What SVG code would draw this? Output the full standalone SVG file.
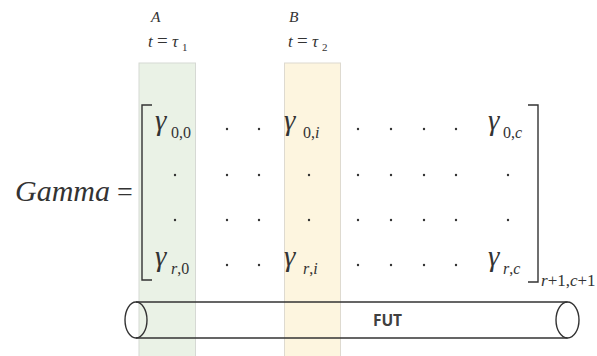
<svg xmlns="http://www.w3.org/2000/svg" width="597" height="356" viewBox="0 0 597 356">
<style>
.m{fill:#333;}
.it{font-style:italic;}
.g{font-size:29px;font-style:italic;}
.s{font-size:16px;}
.d{fill:#333;}
.br{fill:none;stroke:#333;stroke-width:1.4;}
.cyl{fill:none;stroke:#333;stroke-width:1.4;}
</style>
<rect width="597" height="356" fill="#fff"/>
<g id="bandA"><rect x="139" y="63" width="56.5" height="300" fill="#EAF2E6" stroke="#D6D9D4" stroke-width="1"/></g>
<g id="bandB"><rect x="284.5" y="63" width="56" height="300" fill="#FDF5DF" stroke="#DEDAD0" stroke-width="1"/></g>
<g font-family="'Liberation Serif','Times New Roman','DejaVu Serif',serif">
<g id="labelA">
<text class="m it" x="151" y="22" font-size="15.5">A</text>
<text class="m" y="47" font-size="17"><tspan class="it" x="148">t</tspan><tspan x="157" font-size="19">=</tspan><tspan class="it" x="172">τ</tspan><tspan x="182" y="51" font-size="11">1</tspan></text>
</g>
<g id="labelB">
<text class="m it" x="289" y="22" font-size="15.5">B</text>
<text class="m" y="47" font-size="17"><tspan class="it" x="288">t</tspan><tspan x="297" font-size="19">=</tspan><tspan class="it" x="312">τ</tspan><tspan x="322" y="51" font-size="11">2</tspan></text>
</g>
<g id="gamma">
<text class="m" y="201"><tspan class="it" x="15" font-size="30" textLength="95" lengthAdjust="spacingAndGlyphs">Gamma</tspan><tspan x="117" font-size="28">=</tspan></text>
</g>
<g id="matrix">
<path class="br" d="M152,105 H142 V280 H152"/>
<path class="br" d="M528,105 H538 V282 H528"/>
<text class="m"><tspan class="g" x="155" y="130">γ</tspan><tspan class="s" x="171" y="138">0,0</tspan></text>
<text class="m"><tspan class="g" x="284" y="130">γ</tspan><tspan class="s" x="303" y="138">0,</tspan><tspan class="s it" y="138">i</tspan></text>
<text class="m"><tspan class="g" x="488" y="130">γ</tspan><tspan class="s" x="503" y="138">0,</tspan><tspan class="s it" y="138">c</tspan></text>
<text class="m"><tspan class="g" x="155" y="266">γ</tspan><tspan class="s it" x="171" y="274">r</tspan><tspan class="s">,0</tspan></text>
<text class="m"><tspan class="g" x="284" y="266">γ</tspan><tspan class="s it" x="303" y="274">r</tspan><tspan class="s">,</tspan><tspan class="s it">i</tspan></text>
<text class="m"><tspan class="g" x="488" y="266">γ</tspan><tspan class="s it" x="503" y="274">r</tspan><tspan class="s">,</tspan><tspan class="s it">c</tspan></text>
<text class="m" y="286" font-size="17"><tspan class="it" x="541">r</tspan><tspan>+1,</tspan><tspan class="it">c</tspan><tspan>+1</tspan></text>
<g class="d">
<circle cx="227" cy="129" r="1.2"/><circle cx="259" cy="129" r="1.2"/>
<circle cx="358" cy="129" r="1.2"/><circle cx="391" cy="129" r="1.2"/><circle cx="424" cy="129" r="1.2"/><circle cx="456" cy="129" r="1.2"/>
<circle cx="175" cy="175" r="1.2"/><circle cx="227" cy="175" r="1.2"/><circle cx="259" cy="175" r="1.2"/><circle cx="309" cy="175" r="1.2"/>
<circle cx="358" cy="175" r="1.2"/><circle cx="391" cy="175" r="1.2"/><circle cx="424" cy="175" r="1.2"/><circle cx="456" cy="175" r="1.2"/><circle cx="508" cy="175" r="1.2"/>
<circle cx="175" cy="220" r="1.2"/><circle cx="227" cy="220" r="1.2"/><circle cx="259" cy="220" r="1.2"/><circle cx="309" cy="220" r="1.2"/>
<circle cx="358" cy="220" r="1.2"/><circle cx="391" cy="220" r="1.2"/><circle cx="424" cy="220" r="1.2"/><circle cx="456" cy="220" r="1.2"/><circle cx="508" cy="220" r="1.2"/>
<circle cx="227" cy="265" r="1.2"/><circle cx="259" cy="265" r="1.2"/>
<circle cx="358" cy="265" r="1.2"/><circle cx="391" cy="265" r="1.2"/><circle cx="424" cy="265" r="1.2"/><circle cx="456" cy="265" r="1.2"/>
</g>
</g>
</g>
<g id="FUT">
<path class="cyl" d="M136,302 H567.5 M136,338 H567.5"/>
<ellipse class="cyl" cx="136" cy="320" rx="11" ry="18"/>
<ellipse class="cyl" cx="567.5" cy="320" rx="11.5" ry="18"/>
<text x="387.5" y="325.5" text-anchor="middle" font-family="'Open Sans','Noto Sans',sans-serif" font-weight="bold" font-size="15.5" fill="#404040">FUT</text>
</g>
</svg>
